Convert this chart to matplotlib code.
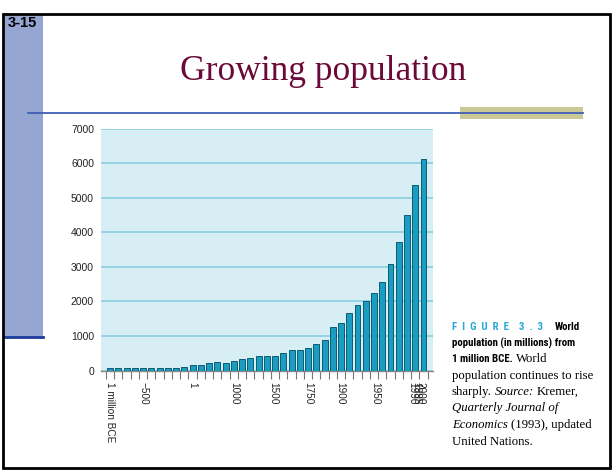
import matplotlib
matplotlib.use("Agg")
import matplotlib.pyplot as plt
from matplotlib import font_manager
from matplotlib.patches import Rectangle
from matplotlib.lines import Line2D
import numpy as np

# World population (millions), oldest period first
population = [70, 70, 70, 70, 70, 70, 70, 70, 70, 110,
              170, 170, 208, 237, 208, 285, 324, 370, 420, 420,
              410, 500, 594, 594, 662, 758, 884, 1270, 1367, 1676,
              1889, 2014, 2237, 2565, 3087, 3725, 4507, 5367, 6120]
year_labels = ["1 million BCE", "\u2212500", "1", "1000", "1500", "1750",
               "1900", "1950", "1990", "1995", "2000"]
label_slots = [0, 4, 10, 15, 19.8, 24, 27.9, 32.1, 36.6, 37.1, 37.6]
y_ticks = [0, 1000, 2000, 3000, 4000, 5000, 6000, 7000]

W, H = 612, 473


def px(x, y):
    return x / W, 1 - y / H


fig = plt.figure(figsize=(W / 100, H / 100), dpi=100)
fig.patch.set_facecolor("white")

# pick a narrow bold face for the caption heading if one is installed
fonts = font_manager.fontManager.ttflist
names = {f.name for f in fonts}
head = dict(family="Liberation Sans", weight="bold", size=6.6)
for cand in ["Liberation Sans Narrow", "Roboto Condensed", "Open Sans Condensed"]:
    if cand in names:
        head = dict(family=cand, weight="bold", size=7.8)
        break
else:
    if any(f.name == "DejaVu Sans" and f.stretch == "condensed" for f in fonts):
        head = dict(family="DejaVu Sans", stretch="condensed", weight="bold", size=7.0)


def frect(x0, y0, x1, y1, **kw):
    fig.add_artist(Rectangle(px(x0, y1), (x1 - x0) / W, (y1 - y0) / H,
                             transform=fig.transFigure, **kw))


def fline(x0, y0, x1, y1, **kw):
    fig.add_artist(Line2D([x0 / W, x1 / W], [1 - y0 / H, 1 - y1 / H],
                          transform=fig.transFigure, **kw))


# slide decoration
frect(5, 14, 43, 337, facecolor="#95a6d2", edgecolor="none", zorder=1)
fline(5, 337, 43, 337, color="#1c3c9c", lw=2, zorder=2)
frect(460, 107, 583, 119, facecolor="#c9c896", edgecolor="none", zorder=1)
fline(28, 113.5, 583, 113.5, color="#3f5fb5", lw=1.3, zorder=2)

fig.text(*px(8, 23), "3-15", family="Liberation Sans", weight="bold",
         size=10.5, ha="left", va="center")
fig.text(*px(323, 72), "Growing population", family="Liberation Serif",
         size=25.5, color="#6a0a38", ha="center", va="center")

# bar chart
ax = fig.add_axes([101 / W, 1 - 370.5 / H, (433 - 101) / W, (370.5 - 128.8) / H])
ax.set_facecolor("#d8eef5")
x = np.arange(len(population))
ax.bar(x, population, width=0.72, color="#1b9dc2", edgecolor="#0d5a73",
       linewidth=0.7, zorder=3)
ax.set_xlim(-1.1, 39.15)
ax.set_ylim(0, 7000)
ax.set_yticks(y_ticks)
ax.set_yticklabels([str(v) for v in y_ticks], family="Liberation Sans",
                   fontsize=7.5, color="#222222")
ax.yaxis.grid(True, color="#8fd2e3", lw=1.3)
ax.set_axisbelow(True)
ax.tick_params(axis="y", length=0, pad=5)
for s in ["top", "right", "left"]:
    ax.spines[s].set_visible(False)
ax.spines["bottom"].set_color("#888888")
ax.spines["bottom"].set_linewidth(1.0)
ax.set_xticks(np.arange(len(population) + 1) - 0.5)
ax.set_xticklabels([])
ax.tick_params(axis="x", length=6, width=0.8, color="#777777", direction="out")

for lab, pos in zip(year_labels, label_slots):
    ax.text(pos, -0.047, lab, transform=ax.get_xaxis_transform(),
            rotation=-90, ha="center", va="top", family="Liberation Sans",
            fontsize=7.2, color="#222222")

# caption, laid out piece by piece on each line
serif = dict(family="Liberation Serif", size=9.2)
serif_it = dict(family="Liberation Serif", style="italic", size=9.2)
lines = [
    (327, [("F  I  G  U  R  E    3  .  3", dict(head, color="#2aa6d6")), ("World", head)]),
    (343, [("population (in millions) from", head)]),
    (359, [("1 million BCE.", head), ("World", serif)]),
    (376, [("population continues to rise", serif)]),
    (392, [("sharply.", serif), ("Source:", serif_it), ("Kremer,", serif)]),
    (408, [("Quarterly Journal of", serif_it)]),
    (425, [("Economics", serif_it), ("(1993), updated", serif)]),
    (442, [("United Nations.", serif)]),
]
renderer = fig.canvas.get_renderer()
for cy, parts in lines:
    cx = 452
    for k, (txt, kw) in enumerate(parts):
        t = fig.text(*px(cx, cy), txt, ha="left", va="center", **kw)
        gap = 12 if k == 0 and txt.startswith("F") else 3
        cx = t.get_window_extent(renderer).x1 + gap

# page edge hides the last caption line partially
frect(445, 446, 608, 467, facecolor="white", edgecolor="none", zorder=10)
frect(3.5, 14, 609.5, 468, facecolor="none", edgecolor="black", lw=2, zorder=11)

fig.savefig("out.png", dpi=100)
